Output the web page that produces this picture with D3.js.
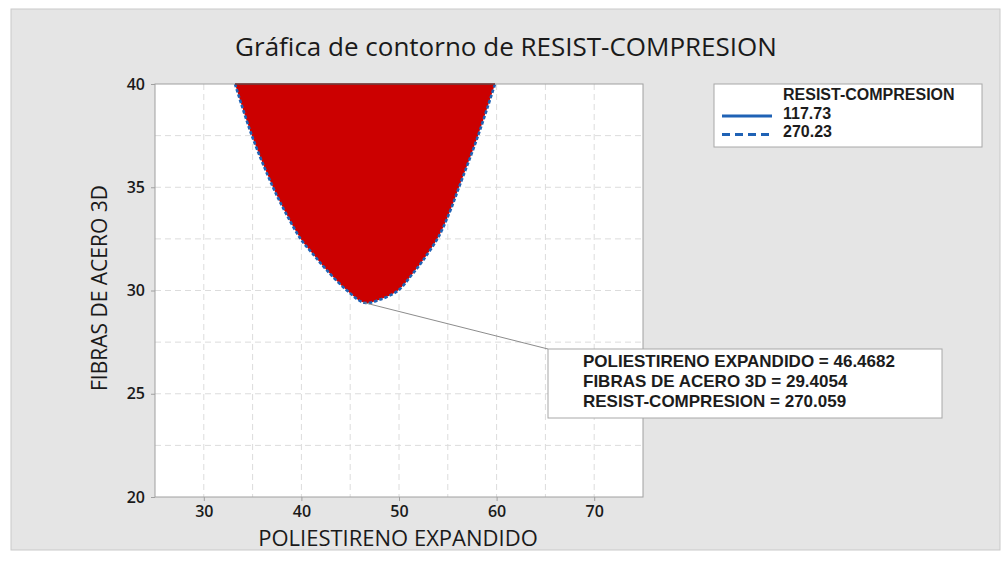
<!DOCTYPE html>
<html>
<head>
<meta charset="utf-8">
<script src="https://cdn.jsdelivr.net/npm/d3@7"></script>
<style>
  body { margin: 0; background: #fff; }
  text { font-family: "Open Sans", "Noto Sans", sans-serif; fill: #1a1a1a; }
  .box-text { font-family: "Liberation Sans", Arial, sans-serif; font-weight: bold; fill: #1c1c1c; }
</style>
</head>
<body>
<div id="chart"></div>
<script>
// datos
const xTicks = [30, 40, 50, 60, 70];
const yTicks = [20, 25, 30, 35, 40];
const xGrid = [30, 35, 40, 45, 50, 55, 60, 65, 70];
const yGrid = [22.5, 25, 27.5, 30, 32.5, 35, 37.5];

// contorno RESIST-COMPRESION = 270.23 (poliestireno, fibras)
const contourLeft = [
  [33.2, 40], [34.94, 37.48], [37.09, 35.0], [38.4, 33.75], [39.95, 32.48],
  [41.3, 31.7], [42.62, 30.97], [44.67, 30.0], [46.47, 29.405]
];
const contourRight = [
  [48.05, 29.56], [49.9, 30.0], [51.3, 30.75], [52.46, 31.46], [54.05, 32.6],
  [55.2, 33.8], [56.15, 35.0], [58.09, 37.48], [59.84, 40]
];
const legendLevels = ["117.73", "270.23"];
const marker = { x: 46.4682, y: 29.4054, z: 270.059 };

const W = 1003, H = 563;
const svg = d3.select("#chart").append("svg")
  .attr("width", W).attr("height", H);

// fondo gris
svg.append("rect")
  .attr("x", 11).attr("y", 9).attr("width", 989).attr("height", 541)
  .attr("fill", "#e5e5e5").attr("stroke", "#c9c9c9");

const plot = { left: 155, right: 643, top: 84, bottom: 497 };
const x = d3.scaleLinear().domain([25, 75]).range([plot.left, plot.right]);
const y = d3.scaleLinear().domain([20, 40]).range([plot.bottom, plot.top]);

svg.append("rect")
  .attr("x", plot.left).attr("y", plot.top)
  .attr("width", plot.right - plot.left).attr("height", plot.bottom - plot.top)
  .attr("fill", "#fff");

// rejilla
svg.append("g").selectAll("line").data(xGrid).enter().append("line")
  .attr("x1", d => x(d)).attr("x2", d => x(d))
  .attr("y1", plot.top).attr("y2", plot.bottom)
  .attr("stroke", "#dcdcdc").attr("stroke-dasharray", "6,4");
svg.append("g").selectAll("line").data(yGrid).enter().append("line")
  .attr("y1", d => y(d)).attr("y2", d => y(d))
  .attr("x1", plot.left).attr("x2", plot.right)
  .attr("stroke", "#dcdcdc").attr("stroke-dasharray", "6,4");

// region del contorno
const pts = contourLeft.concat(contourRight);
const line = d3.line().x(d => x(d[0])).y(d => y(d[1])).curve(d3.curveCatmullRom.alpha(0.5));
svg.append("path")
  .attr("d", line(pts) + "Z")
  .attr("fill", "#cc0000");
svg.append("path")
  .attr("d", line(pts))
  .attr("fill", "none")
  .attr("stroke", "#1f62b5")
  .attr("stroke-width", 2.6)
  .attr("stroke-dasharray", "3.5,2");

// marco
svg.append("rect")
  .attr("x", plot.left).attr("y", plot.top)
  .attr("width", plot.right - plot.left).attr("height", plot.bottom - plot.top)
  .attr("fill", "none").attr("stroke", "#a0a0a0");
svg.append("line")
  .attr("x1", x(contourLeft[0][0])).attr("x2", x(contourRight[contourRight.length - 1][0]))
  .attr("y1", plot.top).attr("y2", plot.top)
  .attr("stroke", "#6e2a2a").attr("stroke-width", 1.5);

// ejes
const xAxis = svg.append("g")
  .attr("transform", `translate(0,${plot.bottom})`)
  .call(d3.axisBottom(x).tickValues(xTicks).tickSize(4).tickPadding(5));
const yAxis = svg.append("g")
  .attr("transform", `translate(${plot.left},0)`)
  .call(d3.axisLeft(y).tickValues(yTicks).tickSize(4).tickPadding(6));
[xAxis, yAxis].forEach(g => {
  g.select(".domain").remove();
  g.selectAll(".tick line").attr("stroke", "#a0a0a0");
  g.selectAll(".tick text")
    .style("font-family", "'Open Sans', sans-serif")
    .style("font-size", "16px").style("font-weight", 600).attr("fill", "#1a1a1a");
});

// titulos
svg.append("text")
  .attr("x", 506).attr("y", 56).attr("text-anchor", "middle")
  .style("font-size", "26px")
  .text("Gráfica de contorno de RESIST-COMPRESION");
svg.append("text")
  .attr("x", 398).attr("y", 546).attr("text-anchor", "middle")
  .style("font-size", "22px")
  .text("POLIESTIRENO EXPANDIDO");
svg.append("text")
  .attr("transform", "translate(107,288) rotate(-90)")
  .attr("text-anchor", "middle")
  .style("font-size", "21px")
  .text("FIBRAS DE ACERO 3D");

// leyenda
const leg = svg.append("g");
leg.append("rect")
  .attr("x", 714).attr("y", 84).attr("width", 268).attr("height", 63)
  .attr("fill", "#fff").attr("stroke", "#a8a8a8");
leg.append("text").attr("class", "box-text").attr("x", 783).attr("y", 100)
  .style("font-size", "16px")
  .text("RESIST-COMPRESION");
legendLevels.forEach((lv, i) => {
  const yy = 116 + i * 18.5;
  leg.append("line")
    .attr("x1", 722).attr("x2", 772).attr("y1", yy).attr("y2", yy)
    .attr("stroke", "#1f62b5").attr("stroke-width", 2.8)
    .attr("stroke-dasharray", i === 0 ? null : "8,5");
  leg.append("text").attr("class", "box-text").attr("x", 783).attr("y", yy + 2.5)
    .style("font-size", "16px")
    .text(lv);
});

// anotacion
const box = { x: 548, y: 349, w: 394, h: 69 };
svg.append("line")
  .attr("x1", x(marker.x)).attr("y1", y(marker.y))
  .attr("x2", box.x).attr("y2", box.y)
  .attr("stroke", "#8c8c8c").attr("stroke-width", 1);
svg.append("rect")
  .attr("x", box.x).attr("y", box.y).attr("width", box.w).attr("height", box.h)
  .attr("fill", "#fff").attr("stroke", "#a8a8a8");
const annLines = [
  "POLIESTIRENO EXPANDIDO = " + marker.x,
  "FIBRAS DE ACERO 3D = " + marker.y,
  "RESIST-COMPRESION = " + marker.z
];
annLines.forEach((t, i) => {
  svg.append("text").attr("class", "box-text")
    .attr("x", 583).attr("y", 367 + i * 20)
    .style("font-size", "17px")
    .text(t);
});
</script>
</body>
</html>
